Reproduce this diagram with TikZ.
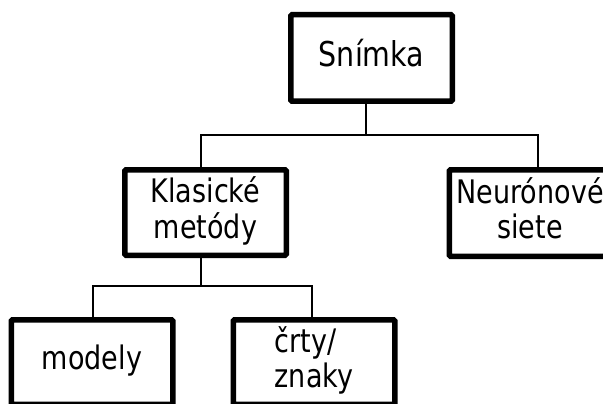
\documentclass[tikz,border=0pt]{standalone}
\usepackage{graphicx}
\usepackage{fontspec}
\setmainfont{DejaVu Sans}
% tall label text: lines set in a tabular, stretched vertically
\newcommand{\talltext}[2][c]{\scalebox{1}[1.2]{\begin{tabular}{@{}#1@{}}#2\end{tabular}}}
\tikzset{
  box/.style={draw=black, line width=5.5pt, rounded corners=1.2pt, fill=white,
    minimum width=161.5pt, inner sep=0pt, align=center,
    font=\fontsize{27}{28}\selectfont},
  conn/.style={draw=black, line width=2.8pt}
}
\begin{document}
\begin{tikzpicture}[x=1pt, y=-1pt]
  \useasboundingbox (0,0) rectangle (603,404);
  % boxes
  \node[box, minimum height=86.5pt, font=\fontsize{28.5}{29}\selectfont] (snimka) at (371.5,58) {\talltext{Snímka}};
  \node[box, minimum height=85.5pt] (klas) at (205.5,212.5) {\talltext{Klasické\\metódy}};
  \node[box, minimum height=86.5pt] (neur) at (530,213) {\talltext{Neurónové\\siete}};
  \node[box, minimum height=84.5pt] (mod) at (92,362) {\talltext{modely}};
  \node[box, minimum height=84.5pt] (crty) at (314,362) {\talltext[l]{črty/\\znaky}};
  % junction points
  \coordinate (t1) at (366,135);
  \coordinate (kl) at (201,135);
  \coordinate (nr) at (538,135);
  \coordinate (t2) at (201,286);
  \coordinate (md) at (93,286);
  \coordinate (cr) at (312,286);
  % connectors
  \draw[conn] (snimka.south -| t1) -- (t1);
  \draw[conn] (klas.north -| kl) -- (kl) -- (nr) -- (neur.north -| nr);
  \draw[conn] (klas.south -| t2) -- (t2);
  \draw[conn] (mod.north -| md) -- (md) -- (cr) -- (crty.north -| cr);
\end{tikzpicture}
\end{document}
